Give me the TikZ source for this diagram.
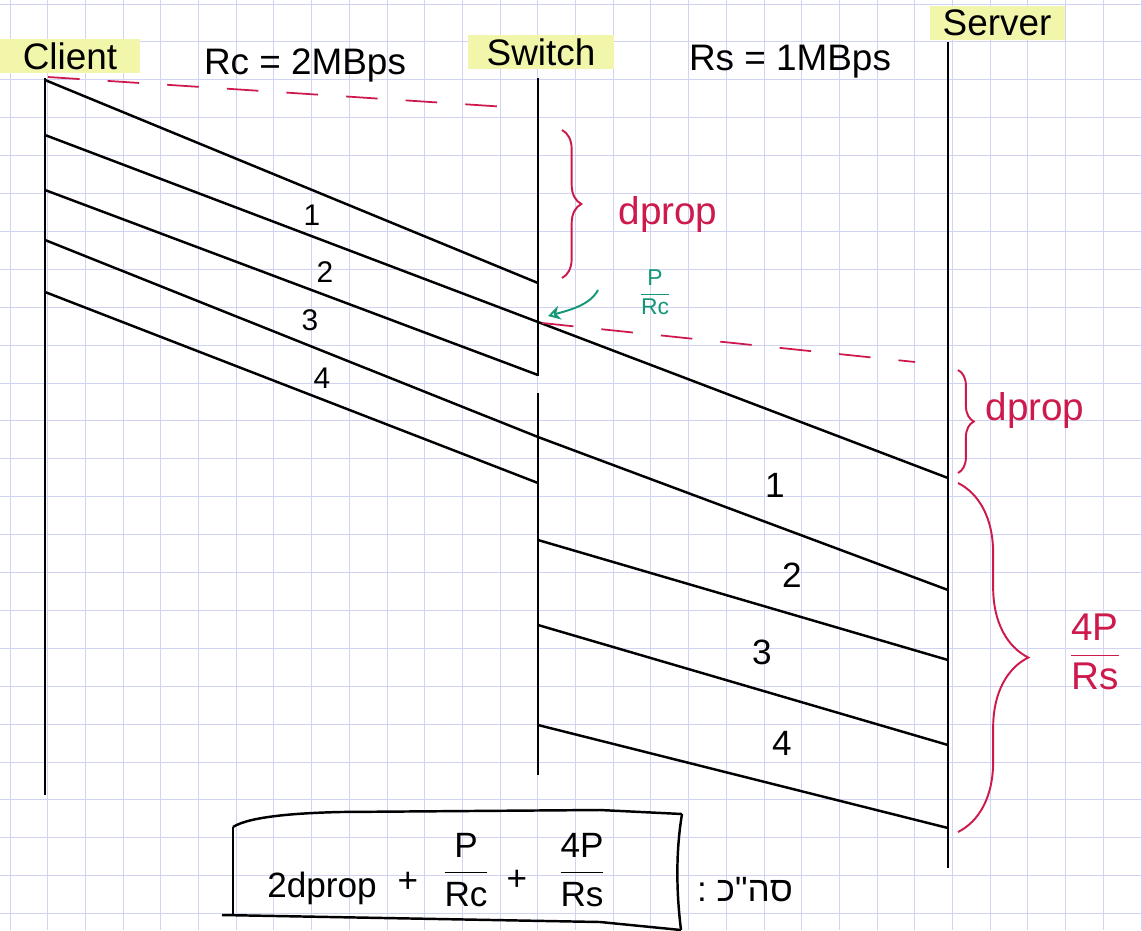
\documentclass[tikz,border=0pt]{standalone}
\usepackage{fontspec}
\setmainfont{Liberation Sans}
\newfontfamily\hebfont[Script=Hebrew]{Liberation Sans}
\TeXXeTstate=1
\usetikzlibrary{decorations.pathreplacing,arrows.meta}
\definecolor{gridc}{RGB}{208,211,242}
\definecolor{myred}{RGB}{205,25,75}
\definecolor{mygreen}{RGB}{20,150,120}
\definecolor{hl}{RGB}{242,246,170}
\begin{document}
\begin{tikzpicture}[x=0.02cm,y=-0.02cm,
  life/.style={line width=1.6pt,black},
  pkt/.style={line width=1.4pt,black},
  reddash/.style={draw=myred,line width=1pt,dash pattern=on 18pt off 16pt},
  rbrace/.style={draw=myred,line width=1.1pt,decorate,decoration={brace,amplitude=#1}},
  hdr/.style={font=\fontsize{21}{24}\selectfont,inner sep=2pt},
  num/.style={font=\fontsize{17}{20}\selectfont},
  bignum/.style={font=\fontsize{20}{24}\selectfont},
  redtxt/.style={text=myred,font=\fontsize{22}{24}\selectfont},
  frm/.style={font=\fontsize{20}{24}\selectfont}]
\useasboundingbox (0,0) rectangle (1142,930);
\fill[white] (0,0) rectangle (1142,930);
% grid paper
\foreach \i in {0,...,30} \draw[gridc,line width=0.5pt] ({10+37.7*\i},0) -- ({10+37.7*\i},930);
\foreach \j in {0,...,24} \draw[gridc,line width=0.5pt] (0,{4+37.9*\j}) -- (1142,{4+37.9*\j});
% headers
\node[hdr,fill=hl,minimum width=2.8cm,minimum height=0.64cm] (client) at (70,56) {Client};
\node[hdr] (rc) at (305,65) {Rc = 2MBps};
\node[hdr,fill=hl,minimum width=2.94cm,minimum height=0.6cm] (switch) at (541,52) {Switch};
\node[hdr] (rs) at (790,62) {Rs = 1MBps};
\node[hdr,fill=hl,minimum width=2.7cm,minimum height=0.6cm] (server) at (997,23) {Server};
% lifelines
\coordinate (c0) at (45,78); \coordinate (c1) at (45,795);
\coordinate (s0) at (538,78); \coordinate (sg1) at (538,376);
\coordinate (sg2) at (538,393); \coordinate (s1) at (538,775);
\coordinate (v0) at (948,42); \coordinate (v1) at (948,868);
\draw[life] (c0) -- (c1);
\draw[life] (s0) -- (sg1);
\draw[life] (sg2) -- (s1);
\draw[life] (v0) -- (v1);
% packets client -> switch -> server
\coordinate (a1) at (45,80);  \coordinate (b1) at (538,283);
\coordinate (a2) at (45,135); \coordinate (b2) at (538,322); \coordinate (e2) at (948,478);
\coordinate (a3) at (45,190); \coordinate (b3) at (538,375);
\coordinate (a4) at (45,240); \coordinate (b4) at (538,437); \coordinate (e4) at (948,590);
\coordinate (a5) at (45,292); \coordinate (b5) at (538,483);
\coordinate (r3) at (538,540); \coordinate (e3) at (948,660);
\coordinate (r4) at (538,625); \coordinate (e5) at (948,745);
\coordinate (r5) at (538,725); \coordinate (e6) at (948,828);
\draw[pkt] (a1) -- (b1);
\draw[pkt] (a2) -- (b2) -- (e2);
\draw[pkt] (a3) -- (b3);
\draw[pkt] (a4) -- (b4) -- (e4);
\draw[pkt] (a5) -- (b5);
\draw[pkt] (r3) -- (e3);
\draw[pkt] (r4) -- (e5);
\draw[pkt] (r5) -- (e6);
% packet numbers
\node[num] (n1) at (312,215) {1};
\node[num] (n2) at (325,272) {2};
\node[num] (n3) at (310,320) {3};
\node[num] (n4) at (322,378) {4};
\node[bignum] (m1) at (775,485) {1};
\node[bignum] (m2) at (792,575) {2};
\node[bignum] (m3) at (762,652) {3};
\node[bignum] (m4) at (782,743) {4};
% red dashed time lines
\coordinate (d1a) at (48,77); \coordinate (d1b) at (522,108);
\coordinate (d2a) at (542,323); \coordinate (d2b) at (915,362);
\draw[reddash] (d1a) -- (d1b);
\draw[reddash] (d2a) -- (d2b);
% braces
\coordinate (br1a) at (562,130); \coordinate (br1b) at (562,278);
\draw[rbrace=11pt] (br1a) -- (br1b);
\node[redtxt] (dp1) at (668,215) {dprop};
\coordinate (br2a) at (958,370); \coordinate (br2b) at (958,473);
\draw[rbrace=9pt] (br2a) -- (br2b);
\node[redtxt] (dp2) at (1035,410) {dprop};
\coordinate (br3a) at (958,483); \coordinate (br3b) at (958,832);
\draw[rbrace=40pt] (br3a) -- (br3b);
\node[redtxt] (fr3) at (1095,652) {$\displaystyle\frac{\mbox{4P}}{\mbox{Rs}}$};
% green arrow and P/Rc
\coordinate (g0) at (598,290); \coordinate (g1) at (548,316);
\draw[mygreen,line width=1.1pt,-{Stealth[open,length=7pt,width=8pt]}] (g0) .. controls (590,305) and (570,310) .. (g1);
\node[text=mygreen,font=\fontsize{13}{14}\selectfont] (prc) at (655,292) {$\displaystyle\frac{\mbox{P}}{\mbox{Rc}}$};
% total box
\coordinate (k1) at (233,827); \coordinate (k2) at (682,814);
\coordinate (k3) at (681,930); \coordinate (k4) at (233,915);
\coordinate (k5) at (222,915);
\draw[line width=1.4pt] (k1) .. controls (250,816) and (300,813) .. (340,812) -- (600,810) -- (k2);
\draw[line width=1.4pt] (k1) -- (k4);
\draw[line width=1.4pt] (k2) .. controls (676,850) and (676,890) .. (k3);
\draw[line width=1.4pt] (k5) -- (600,922) -- (k3);
\node[frm] (f1) at (322,888) {2dprop};
\node[frm] (f2) at (408,882) {+};
\node[frm] (f3) at (466,870) {$\displaystyle\frac{\mbox{P}}{\mbox{Rc}}$};
\node[frm] (f4) at (517,880) {+};
\node[frm] (f5) at (582,870) {$\displaystyle\frac{\mbox{4P}}{\mbox{Rs}}$};
\node[frm] (heb) at (745,890) {\hebfont :\ \mbox{כ}\mbox{"}\mbox{ה}\mbox{ס}};
\end{tikzpicture}
\end{document}
